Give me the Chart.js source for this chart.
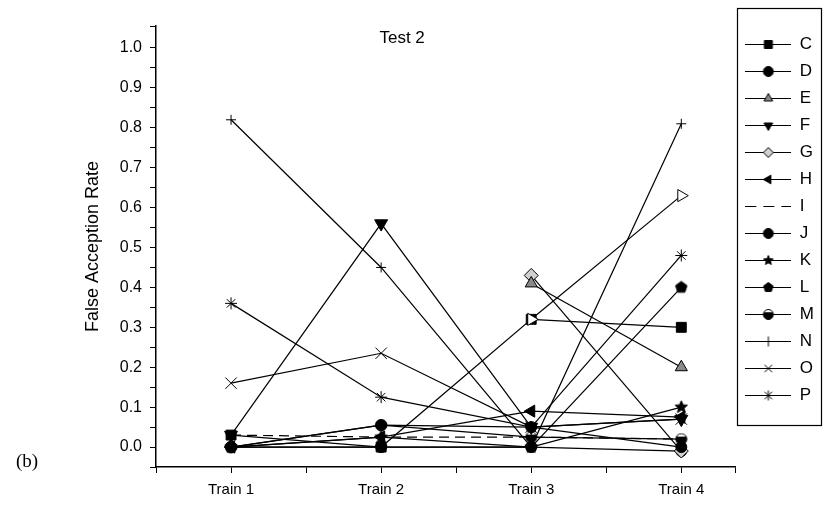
<!DOCTYPE html>
<html>
<head>
<meta charset="utf-8">
<script src="https://cdn.jsdelivr.net/npm/chart.js@4.4.1/dist/chart.umd.min.js"></script>
<style>
  html, body { margin: 0; padding: 0; background: #fff; }
</style>
</head>
<body>
<canvas id="fig" width="824" height="516"></canvas>
<script>
// training sets on the x axis
var trainLabels = ['Train 1', 'Train 2', 'Train 3', 'Train 4'];

// false acception rate per subject (Test 2)
var seriesC = [0.03, 0.00, 0.32, 0.30];
var seriesD = [0.00, 0.055, 0.05, 0.00];
var seriesE = [null, null, 0.41, 0.20];
var seriesF = [0.03, 0.56, 0.05, 0.07];
var seriesG = [null, null, 0.43, -0.01];
var seriesH = [0.00, 0.025, 0.09, 0.075];
var seriesI = [0.03, 0.025, 0.025, 0.02];
var seriesJ = [0.00, 0.00, 0.00, -0.01];
var seriesK = [0.00, 0.025, 0.00, 0.10];
var seriesL = [0.00, 0.00, 0.00, 0.40];
var seriesM = [0.00, 0.055, 0.025, 0.02];
var seriesN = [0.82, 0.45, 0.00, 0.81];
var seriesO = [0.16, 0.235, 0.05, 0.07];
var seriesP = [0.36, 0.125, 0.05, 0.48];
var seriesB = [null, null, 0.32, 0.63];   // open triangle, no legend entry

var yTickLabels = ['0.0', '0.1', '0.2', '0.3', '0.4', '0.5', '0.6', '0.7', '0.8', '0.9', '1.0'];

var FONT = "'Liberation Sans', Arial, sans-serif";

function poly(g, n, r, start) {
    for (var i = 0; i < n; i++) {
        var a = (start + i * 360 / n) * Math.PI / 180;
        if (i === 0) g.moveTo(r * Math.cos(a), r * Math.sin(a));
        else g.lineTo(r * Math.cos(a), r * Math.sin(a));
    }
    g.closePath();
}

function drawMarker(g, kind, x, y, r, fill, rot) {
    g.save();
    g.translate(x, y);
    g.rotate((rot || 0) * Math.PI / 180);
    g.lineWidth = 1;
    g.strokeStyle = '#000';
    g.fillStyle = fill;
    g.beginPath();
    if (kind === 'circle') {
        g.arc(0, 0, r, 0, 2 * Math.PI); g.fill(); g.stroke();
    } else if (kind === 'rect') {
        g.rect(-r * 0.8, -r * 0.8, r * 1.6, r * 1.6); g.fill(); g.stroke();
    } else if (kind === 'triangle') {
        poly(g, 3, r, -90); g.fill(); g.stroke();
    } else if (kind === 'rectRot') {
        poly(g, 4, r, -90); g.fill(); g.stroke();
    } else if (kind === 'pentagon') {
        poly(g, 5, r, -90); g.fill(); g.stroke();
    } else if (kind === 'star5') {
        for (var i = 0; i < 10; i++) {
            var a = (-90 + i * 36) * Math.PI / 180;
            var rr = i % 2 ? r * 0.45 : r;
            if (i === 0) g.moveTo(rr * Math.cos(a), rr * Math.sin(a));
            else g.lineTo(rr * Math.cos(a), rr * Math.sin(a));
        }
        g.closePath(); g.fill(); g.stroke();
    } else if (kind === 'half') {
        g.arc(0, 0, r, 0, 2 * Math.PI); g.fillStyle = '#fff'; g.fill(); g.stroke();
        g.beginPath(); g.arc(0, 0, r, -0.15 * Math.PI, 1.15 * Math.PI); g.closePath();
        g.fillStyle = '#000'; g.fill();
    } else if (kind === 'cross' || kind === 'star') {
        g.moveTo(-r, 0); g.lineTo(r, 0); g.moveTo(0, -r); g.lineTo(0, r);
        if (kind === 'star') {
            var d = r * 0.75;
            g.moveTo(-d, -d); g.lineTo(d, d); g.moveTo(-d, d); g.lineTo(d, -d);
        }
        g.stroke();
    } else if (kind === 'crossRot') {
        var e = r * 0.75;
        g.moveTo(-e, -e); g.lineTo(e, e); g.moveTo(-e, e); g.lineTo(e, -e); g.stroke();
    }
    g.restore();
}

function markerCanvas(kind, size, fill) {
    var c = document.createElement('canvas');
    c.width = size; c.height = size;
    drawMarker(c.getContext('2d'), kind, size / 2, size / 2, size / 2 - 1, fill, 0);
    return c;
}

function legendIcon(kind, fill, rot, r, dashed) {
    var c = document.createElement('canvas');
    c.width = 46; c.height = 17;
    var g = c.getContext('2d');
    g.strokeStyle = '#000';
    g.lineWidth = 1;
    if (dashed) g.setLineDash([11, 7]);
    g.beginPath(); g.moveTo(0, 8.5); g.lineTo(46, 8.5); g.stroke();
    g.setLineDash([]);
    if (kind) drawMarker(g, kind, 23, 8.5, r, fill, rot);
    return c;
}

function pts(arr) {
    return arr.map(function (v, i) { return { x: i + 1, y: v }; });
}

// label, values, marker, chart.js point style, radius, fill, rotation
var specs = [
    ['', seriesB, 'triangle', 'triangle', 7, '#fff', 90],
    ['C', seriesC, 'rect', 'rect', 7, '#000', 0],
    ['D', seriesD, 'circle', 'circle', 5.5, '#000', 0],
    ['E', seriesE, 'triangle', 'triangle', 7, '#8a8a8a', 0],
    ['F', seriesF, 'triangle', 'triangle', 7.5, '#000', 180],
    ['G', seriesG, 'rectRot', 'rectRot', 7, '#d0d0d0', 0],
    ['H', seriesH, 'triangle', 'triangle', 7, '#000', 270],
    ['I', seriesI, null, false, 0, '#000', 0],
    ['J', seriesJ, 'circle', 'circle', 5.5, '#000', 0],
    ['K', seriesK, 'star5', markerCanvas('star5', 15, '#000'), 7, '#000', 0],
    ['L', seriesL, 'pentagon', markerCanvas('pentagon', 14, '#000'), 7, '#000', 0],
    ['M', seriesM, 'half', markerCanvas('half', 13, '#000'), 6, '#000', 0],
    ['N', seriesN, 'cross', 'cross', 5, '#000', 0],
    ['O', seriesO, 'crossRot', 'crossRot', 8, '#000', 0],
    ['P', seriesP, 'star', 'star', 6, '#000', 0]
];

var icons = {};
var datasets = specs.map(function (s) {
    icons[s[0]] = legendIcon(s[2], s[5], s[6], 5, s[2] === null);
    return {
        label: s[0],
        data: pts(s[1]),
        borderColor: '#000',
        borderWidth: 1.2,
        borderDash: s[2] === null ? [10, 6] : [],
        pointStyle: s[3],
        pointRadius: s[4],
        pointHoverRadius: s[4],
        pointRotation: s[6],
        pointBackgroundColor: s[5],
        pointBorderColor: '#000',
        pointBorderWidth: 1,
        tension: 0,
        spanGaps: false,
        clip: false
    };
});

var extraText = {
    id: 'extraText',
    afterDraw: function (chart) {
        var ctx = chart.ctx;
        var xs = chart.scales.x, ys = chart.scales.y;
        ctx.save();
        ctx.fillStyle = '#000';
        ctx.textAlign = 'center';
        ctx.textBaseline = 'middle';
        ctx.font = '17px ' + FONT;
        ctx.fillText('Test 2', xs.getPixelForValue(2.14), ys.getPixelForValue(1.025));
        ctx.textAlign = 'left';
        ctx.font = "19px 'Liberation Serif', 'Times New Roman', serif";
        ctx.fillText('(b)', 16, 462);
        // frame round the legend
        var lg = chart.legend;
        var x0 = Math.round(lg.left) + 2.5;
        ctx.strokeStyle = '#000';
        ctx.lineWidth = 1.2;
        ctx.strokeRect(x0, 8.5, 821.5 - x0, 417);
        ctx.restore();
    }
};

new Chart(document.getElementById('fig').getContext('2d'), {
    type: 'line',
    data: { datasets: datasets },
    plugins: [extraText],
    options: {
        responsive: false,
        animation: false,
        devicePixelRatio: 1,
        layout: { padding: { left: 78, right: 0, top: 26, bottom: 9 } },
        plugins: {
            tooltip: { enabled: false },
            legend: {
                position: 'right',
                align: 'start',
                labels: {
                    usePointStyle: true,
                    pointStyleWidth: 46,
                    padding: 10,
                    color: '#000',
                    font: { family: FONT, size: 17 },
                    filter: function (item) { return item.text !== ''; },
                    generateLabels: function (chart) {
                        var items = Chart.defaults.plugins.legend.labels.generateLabels(chart);
                        items.forEach(function (it) {
                            it.pointStyle = icons[it.text];
                            it.rotation = 0;
                            it.lineDash = [];
                        });
                        return items;
                    }
                }
            }
        },
        scales: {
            x: {
                type: 'linear',
                min: 0.5,
                max: 4.36,
                grid: { drawOnChartArea: false, drawTicks: true, tickLength: 6, color: '#000' },
                border: { display: true, color: '#000', width: 1.5 },
                ticks: {
                    stepSize: 0.5,
                    autoSkip: false,
                    maxRotation: 0,
                    padding: 8,
                    color: '#000',
                    font: { family: FONT, size: 15 },
                    callback: function (v) {
                        return Number.isInteger(v) && v >= 1 && v <= trainLabels.length ? trainLabels[v - 1] : '';
                    }
                }
            },
            y: {
                min: -0.05,
                max: 1.055,
                afterFit: function (s) { s.width = 78; },
                grid: { drawOnChartArea: false, drawTicks: true, tickLength: 6, color: '#000' },
                border: { display: true, color: '#000', width: 1.5 },
                title: {
                    display: true,
                    text: 'False Acception Rate',
                    color: '#000',
                    font: { family: FONT, size: 18 }
                },
                ticks: {
                    stepSize: 0.05,
                    autoSkip: false,
                    padding: 8,
                    color: '#000',
                    font: { family: FONT, size: 16 },
                    callback: function (v) {
                        var k = Math.round(v * 100);
                        if (Math.abs(v * 100 - k) > 0.01 || k < 0 || k % 10 !== 0) return '';
                        return yTickLabels[k / 10] || '';
                    }
                }
            }
        }
    }
});
</script>
</body>
</html>
